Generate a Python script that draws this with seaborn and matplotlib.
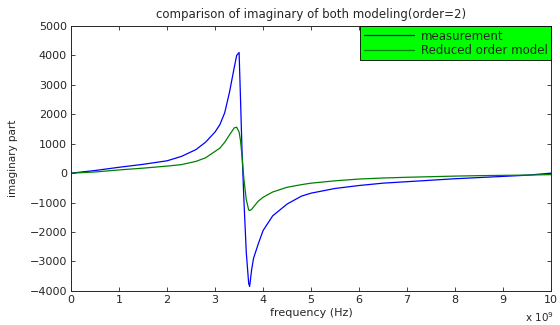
import numpy as np
import pandas as pd
import matplotlib
matplotlib.use("Agg")
import matplotlib.pyplot as plt
import seaborn as sns
from matplotlib.ticker import FuncFormatter

# frequency in GHz (plotted in Hz)
freq_ghz = [0, 0.5, 1.0, 1.5, 2.0, 2.3, 2.6, 2.8, 3.0, 3.1, 3.2, 3.3, 3.4, 3.45,
            3.5, 3.53, 3.56, 3.6, 3.65, 3.7, 3.72, 3.76, 3.8, 3.9, 4.0, 4.2,
            4.5, 4.8, 5.0, 5.5, 6.0, 6.5, 7.0, 7.5, 8.0, 8.5, 9.0, 9.5, 10.0]
measurement = [0, 90, 200, 300, 420, 570, 800, 1050, 1400, 1650, 2050, 2750,
               3600, 4000, 4100, 2500, 800, -900, -2700, -3750, -3850, -3300,
               -2900, -2400, -1950, -1450, -1050, -780, -680, -520, -420, -340,
               -290, -240, -190, -150, -110, -70, 0]
reduced = [0, 40, 110, 170, 240, 290, 400, 520, 740, 850, 1050, 1300, 1540,
           1560, 1400, 1100, 600, -200, -900, -1250, -1270, -1230, -1150, -950,
           -820, -640, -480, -390, -340, -260, -200, -165, -140, -120, -100,
           -85, -75, -65, -50]

labels = ["measurement", "Reduced order model"]
df = pd.concat([
    pd.DataFrame({"f": np.array(freq_ghz) * 1e9, "v": measurement, "s": labels[0]}),
    pd.DataFrame({"f": np.array(freq_ghz) * 1e9, "v": reduced, "s": labels[1]}),
])

sns.set_style("ticks")
plt.rcParams["font.family"] = ["DejaVu Sans"]

fig = plt.figure(figsize=(5.6, 3.25), dpi=100)
ax = fig.add_axes([0.127, 0.105, 0.857, 0.815])

sns.lineplot(data=df, x="f", y="v", hue="s", palette={labels[0]: "#0000ff", labels[1]: "#008000"},
             linewidth=0.9, ax=ax, sort=False, estimator=None)

ax.set_xlim(0, 10e9)
ax.set_ylim(-4000, 5000)
ax.set_xticks(np.arange(0, 11) * 1e9)
ax.set_yticks(np.arange(-4000, 5001, 1000))
ax.xaxis.set_major_formatter(FuncFormatter(lambda v, p: f"{v/1e9:g}"))
ax.tick_params(direction="in", top=True, right=True, labelsize=8, length=3, width=0.6, pad=3)
for sp in ax.spines.values():
    sp.set_visible(True)
    sp.set_linewidth(0.7)

ax.set_title("comparison of imaginary of both modeling(order=2)", fontsize=8.5, pad=6)
ax.set_xlabel("frequency (Hz)", fontsize=8, labelpad=2)
ax.set_ylabel("imaginary part", fontsize=7.5, labelpad=8)
ax.text(1.005, -0.1, "x 10$^9$", transform=ax.transAxes, fontsize=7.5, ha="right", va="center")

leg = ax.legend(loc="upper right", fontsize=8.5, frameon=True, fancybox=False,
                borderaxespad=0, handlelength=4.2, handletextpad=0.6, labelspacing=0.1,
                borderpad=0.3, facecolor="#00ff00", framealpha=1)
leg.get_frame().set_edgecolor("black")
leg.get_frame().set_linewidth(0.6)
leg.set_title(None)

fig.savefig("out.png", dpi=100)
